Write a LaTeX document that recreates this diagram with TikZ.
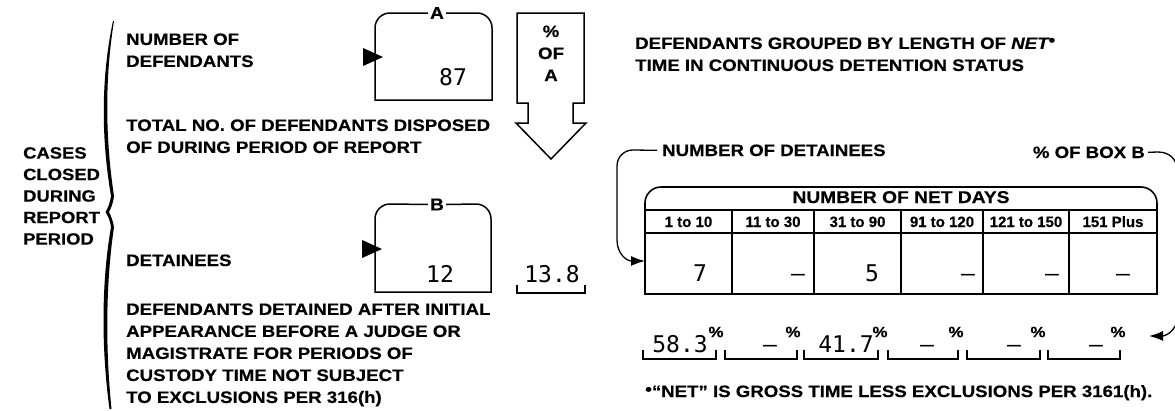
\documentclass[tikz,border=0pt]{standalone}
\usepackage{fontspec}
\usetikzlibrary{arrows.meta}
\newfontfamily\lbl{Liberation Sans Bold}[FakeStretch=1.13,FakeBold=0.4]
\newfontfamily\lblit{Liberation Sans Bold Italic}[FakeStretch=1.13,FakeBold=0.4]
\newfontfamily\colf{Liberation Sans Bold}[FakeBold=0.4]
\newfontfamily\tw{DejaVu Sans Mono}
\begin{document}
\begin{tikzpicture}[x=1pt,y=-1pt,
  txt/.style={inner sep=0pt, font=\lbl\fontsize{16.5}{22}\selectfont, align=left},
  big/.style={inner sep=0pt, font=\lbl\fontsize{16.3}{21.5}\selectfont, align=left},
  colh/.style={inner sep=0pt, font=\colf\fontsize{15}{18}\selectfont, anchor=base},
  num/.style={inner sep=0pt, font=\tw\fontsize{23}{26}\selectfont, anchor=base},
  pct/.style={inner sep=0pt, font=\lbl\fontsize{15}{16}\selectfont},
  boxlbl/.style={inner sep=2pt, font=\lbl\fontsize{17}{18}\selectfont},
  ln/.style={line width=1.5pt},
  tab/.style={line width=1.6pt},
  conn/.style={line width=1.3pt, -{Latex[length=14pt,width=10pt]}},
]
\useasboundingbox (0,0) rectangle (1175,410);

% left brace
\fill (113,21) .. controls (100.5,80) and (101.5,140) .. (111,196)
  .. controls (110,203) and (108,208) .. (105.5,212)
  .. controls (108,216) and (110,220) .. (111,227)
  .. controls (101,285) and (101.5,350) .. (109.5,409) -- (111.5,409)
  .. controls (105.5,350) and (105.5,285) .. (114,227)
  .. controls (113,221) and (111,216) .. (109,212)
  .. controls (111,208) and (113,204) .. (114,196)
  .. controls (105.5,140) and (104.5,80) .. (114,21) -- cycle;

\node[big, anchor=north west] (cases) at (23,147) {CASES\\CLOSED\\DURING\\REPORT\\PERIOD};

% left texts
\node[txt, anchor=north west] (numdef) at (126,33.2) {NUMBER OF\\DEFENDANTS};
\node[txt, anchor=north west] (total) at (126,119.2) {TOTAL NO. OF DEFENDANTS DISPOSED\\OF DURING PERIOD OF REPORT};
\node[txt, anchor=base west] (detn) at (126,266) {DETAINEES};
\node[txt, anchor=north west] (detdesc) at (126,303.2) {DEFENDANTS DETAINED AFTER INITIAL\\APPEARANCE BEFORE A JUDGE OR\\MAGISTRATE FOR PERIODS OF\\CUSTODY TIME NOT SUBJECT\\TO EXCLUSIONS PER 316(h)};

% box A
\node[boxlbl] (labA) at (437,13) {A};
\draw[ln] (labA.west) -- (390,13) .. controls (381.7,13) and (375,19.7) .. (375,28)
  -- (375,100) -- (492,100) -- (492,28) .. controls (492,19.7) and (485.3,13) .. (477,13) -- (labA.east);
\fill (363,48) -- (383,57) -- (363,66) -- cycle;
\node[num] (valA) at (453,85) {87};

% box B
\node[boxlbl] (labB) at (437,204.5) {B};
\draw[ln] (labB.west) -- (390,204) .. controls (381.7,204) and (375,210.7) .. (375,219)
  -- (375,292) -- (491,292) -- (491,219) .. controls (491,210.7) and (484.3,204) .. (476,204) -- (labB.east);
\fill (362,240) -- (382,249) -- (362,258) -- cycle;
\node[num] (valB) at (440,282) {12};

% percent of A
\draw[ln] (517,13) -- (584,13) -- (584,103) -- (573,103) -- (573,123) -- (586,123)
  -- (551,159) -- (516,123) -- (528,123) -- (528,103) -- (517,103) -- cycle;
\node[txt, anchor=base] (pA1) at (551,37) {\%};
\node[txt, anchor=base] (pA2) at (551,59) {OF};
\node[txt, anchor=base] (pA3) at (551,81) {A};
\node[num] (pctB) at (552,282) {13.8};
\draw[ln] (517,285) -- (517,293) -- (585,293) -- (585,285);

% right heading
\node[txt, anchor=north west] (head) at (635,37.2) {DEFENDANTS GROUPED BY LENGTH OF {\lblit NET}\raisebox{3pt}{\fontsize{17}{17}\selectfont\lbl •}\\TIME IN CONTINUOUS DETENTION STATUS};

% table
\draw[tab] (645,294) -- (645,203) .. controls (645,194.2) and (652.2,187) .. (661,187)
  -- (1141,187) .. controls (1149.8,187) and (1157,194.2) .. (1157,203) -- (1157,294) -- cycle;
\draw[tab] (645,210) -- (1157,210);
\draw[tab] (645,233) -- (1157,233);
\foreach \x in {732,814,901,983,1069} \draw[tab] (\x,210) -- (\x,294);
\node[inner sep=0pt, font=\lbl\fontsize{17}{18}\selectfont, anchor=base] (nnd) at (901,203) {NUMBER OF NET DAYS};
\node[colh] (c1) at (688.5,227) {1 to 10};
\node[colh] (c2) at (773,227) {11 to 30};
\node[colh] (c3) at (857.5,227) {31 to 90};
\node[colh] (c4) at (942,227) {91 to 120};
\node[colh] (c5) at (1026,227) {121 to 150};
\node[colh] (c6) at (1113,227) {151 Plus};
\node[num] (d1) at (700,281) {7};
\node[num] (d2) at (798,281) {–};
\node[num] (d3) at (872,281) {5};
\node[num] (d4) at (968,281) {–};
\node[num] (d5) at (1052,281) {–};
\node[num] (d6) at (1123,281) {–};

% connectors labels
\node[txt, anchor=base west] (ndet) at (662,156) {NUMBER OF DETAINEES};
\node[txt, anchor=base east] (boxb) at (1145,158) {\% OF BOX B};
\coordinate (tabin) at (645,261);
\coordinate (pctin) at (1149,336);
\draw[conn] ([xshift=-5pt]ndet.west) -- (633,150) .. controls (624,150) and (617,157) .. (617,166)
  -- (617,240) .. controls (617,253) and (626,261) .. (tabin);
\begin{scope}
\clip (0,0) rectangle (1175,410);
\draw[conn] ([xshift=3pt]boxb.east) -- (1158,152) .. controls (1168,152) and (1177,158) .. (1177,170)
  -- (1177,318) .. controls (1177,330) and (1166,336) .. (pctin);
\end{scope}

% percent row
\foreach \a/\b in {643/716,725/797,804/878,888/958,967/1040,1048/1120}
  \draw[ln] (\a,350) -- (\a,359) -- (\b,359) -- (\b,350);
\node[num] (p1) at (680,352) {58.3};
\node[num] (p2) at (770,352) {–};
\node[num] (p3) at (846,352) {41.7};
\node[num] (p4) at (927,352) {–};
\node[num] (p5) at (1014,352) {–};
\node[num] (p6) at (1096,352) {–};
\node[pct] (s1) at (716,332) {\%};
\node[pct] (s2) at (793,332) {\%};
\node[pct] (s3) at (880,332) {\%};
\node[pct] (s4) at (956,332) {\%};
\node[pct] (s5) at (1038,332) {\%};
\node[pct] (s6) at (1118,332) {\%};

% footnote
\node[txt, anchor=base west] (foot) at (645,397) {\raisebox{2pt}{\fontsize{17}{17}\selectfont\lbl •}“NET” IS GROSS TIME LESS EXCLUSIONS PER 3161(h).};
\end{tikzpicture}
\end{document}
